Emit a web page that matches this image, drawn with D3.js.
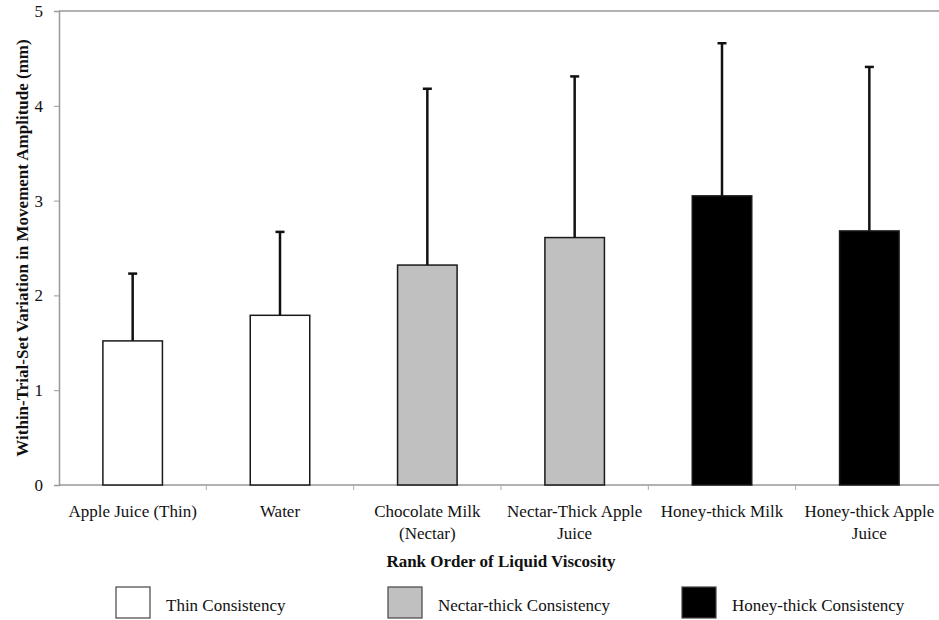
<!DOCTYPE html>
<html>
<head>
<meta charset="utf-8">
<script src="https://cdn.jsdelivr.net/npm/d3@7/dist/d3.min.js"></script>
<style>
  body { margin: 0; background: #fff; }
  svg text { font-family: "Liberation Serif", "Times New Roman", serif; fill: #111; }
</style>
</head>
<body>
<svg id="chart" width="939" height="620"></svg>
<script>
(function () {
	// data
	const liquids = ["Apple Juice (Thin)", "Water", "Chocolate Milk (Nectar)", "Nectar-Thick Apple Juice", "Honey-thick Milk", "Honey-thick Apple Juice"];
	const labelLines = [["Apple Juice (Thin)"], ["Water"], ["Chocolate Milk", "(Nectar)"], ["Nectar-Thick Apple", "Juice"], ["Honey-thick Milk"], ["Honey-thick Apple", "Juice"]];
	const meanValues = [1.52, 1.79, 2.32, 2.61, 3.05, 2.68];
	const sdValues = [0.71, 0.88, 1.86, 1.70, 1.61, 1.73];
	const consistency = ["thin", "thin", "nectar", "nectar", "honey", "honey"];
	const yTicks = [0, 1, 2, 3, 4, 5];
	const legendNames = ["Thin Consistency", "Nectar-thick Consistency", "Honey-thick Consistency"];
	const legendKeys = ["thin", "nectar", "honey"];

	const fills = { thin: "#ffffff", nectar: "#c0c0c0", honey: "#000000" };

	const plot = { left: 59, right: 943, top: 11, bottom: 485 };
	const svg = d3.select("#chart");

	const x = d3.scaleBand()
		.domain(liquids)
		.range([plot.left, plot.right])
		.paddingInner(0.596)
		.paddingOuter(0.298);

	const step = (plot.right - plot.left) / liquids.length;

	const y = d3.scaleLinear()
		.domain([0, 5])
		.range([plot.bottom, plot.top]);

	// top frame line
	svg.append("line")
		.attr("x1", plot.left).attr("x2", plot.right)
		.attr("y1", plot.top).attr("y2", plot.top)
		.attr("stroke", "#999").attr("stroke-width", 1.5);

	// y axis
	const yAxis = svg.append("g")
		.attr("transform", "translate(" + plot.left + ",0)")
		.call(d3.axisLeft(y).tickValues(yTicks).tickSize(5).tickPadding(11).tickFormat(d3.format("d")));
	yAxis.select(".domain").attr("stroke", "#999").attr("stroke-width", 1.5);
	yAxis.selectAll(".tick line").attr("stroke", "#999");
	yAxis.selectAll("text")
		.style("font-family", "Liberation Serif, serif")
		.style("font-size", "17px")
		.attr("fill", "#222");

	// x axis line with boundary ticks
	svg.append("line")
		.attr("x1", plot.left).attr("x2", plot.right)
		.attr("y1", plot.bottom).attr("y2", plot.bottom)
		.attr("stroke", "#999").attr("stroke-width", 1.5);
	svg.selectAll(".xtick")
		.data(d3.range(1, liquids.length))
		.enter()
		.append("line")
		.attr("class", "xtick")
		.attr("x1", function(d){ return plot.left + d * step; })
		.attr("x2", function(d){ return plot.left + d * step; })
		.attr("y1", plot.bottom)
		.attr("y2", plot.bottom + 5)
		.attr("stroke", "#aaa");

	// bars
	svg.selectAll(".bar")
		.data(liquids)
		.enter()
		.append("rect")
		.attr("class", "bar")
		.attr("x", function(d){ return x(d); })
		.attr("width", x.bandwidth())
		.attr("y", function(d, i){ return y(meanValues[i]); })
		.attr("height", function(d, i){ return y(0) - y(meanValues[i]); })
		.attr("fill", function(d, i){ return fills[consistency[i]]; })
		.attr("stroke", "#1a1a1a")
		.attr("stroke-width", 1.5);

	// error bars (upper only)
	const err = svg.selectAll(".err")
		.data(liquids)
		.enter()
		.append("g")
		.attr("class", "err");
	err.append("line")
		.attr("x1", function(d){ return x(d) + x.bandwidth() / 2; })
		.attr("x2", function(d){ return x(d) + x.bandwidth() / 2; })
		.attr("y1", function(d, i){ return y(meanValues[i]); })
		.attr("y2", function(d, i){ return y(meanValues[i] + sdValues[i]); })
		.attr("stroke", "#111")
		.attr("stroke-width", 2.5);
	err.append("line")
		.attr("x1", function(d){ return x(d) + x.bandwidth() / 2 - 4.5; })
		.attr("x2", function(d){ return x(d) + x.bandwidth() / 2 + 4.5; })
		.attr("y1", function(d, i){ return y(meanValues[i] + sdValues[i]); })
		.attr("y2", function(d, i){ return y(meanValues[i] + sdValues[i]); })
		.attr("stroke", "#111")
		.attr("stroke-width", 2.5);

	// category labels
	const catLabels = svg.selectAll(".catlabel")
		.data(liquids)
		.enter()
		.append("text")
		.attr("class", "catlabel")
		.attr("text-anchor", "middle")
		.style("font-size", "17px")
		.attr("y", 517);
	catLabels.each(function(d, i){
		const t = d3.select(this);
		labelLines[i].forEach(function(line, j){
			t.append("tspan")
				.attr("x", x(d) + x.bandwidth() / 2)
				.attr("dy", j === 0 ? 0 : 22)
				.text(line);
		});
	});

	// axis titles
	svg.append("text")
		.attr("x", (plot.left + plot.right) / 2)
		.attr("y", 567)
		.attr("text-anchor", "middle")
		.style("font-size", "17px")
		.style("font-weight", "bold")
		.text("Rank Order of Liquid Viscosity");

	svg.append("text")
		.attr("transform", "translate(28," + 248 + ") rotate(-90)")
		.attr("text-anchor", "middle")
		.style("font-size", "17px")
		.style("font-weight", "bold")
		.text("Within-Trial-Set Variation in Movement Amplitude (mm)");

	// legend
	const legendX = [116, 388, 682];
	const legend = svg.selectAll(".legend")
		.data(legendKeys)
		.enter()
		.append("g")
		.attr("class", "legend")
		.attr("transform", function(d, i){ return "translate(" + legendX[i] + ",587)"; });
	legend.append("rect")
		.attr("width", 34)
		.attr("height", 31)
		.attr("fill", function(d){ return fills[d]; })
		.attr("stroke", "#444")
		.attr("stroke-width", 1.2);
	legend.append("text")
		.attr("x", 50)
		.attr("y", 24)
		.style("font-size", "17px")
		.text(function(d, i){ return legendNames[i]; });
})();
</script>
</body>
</html>
